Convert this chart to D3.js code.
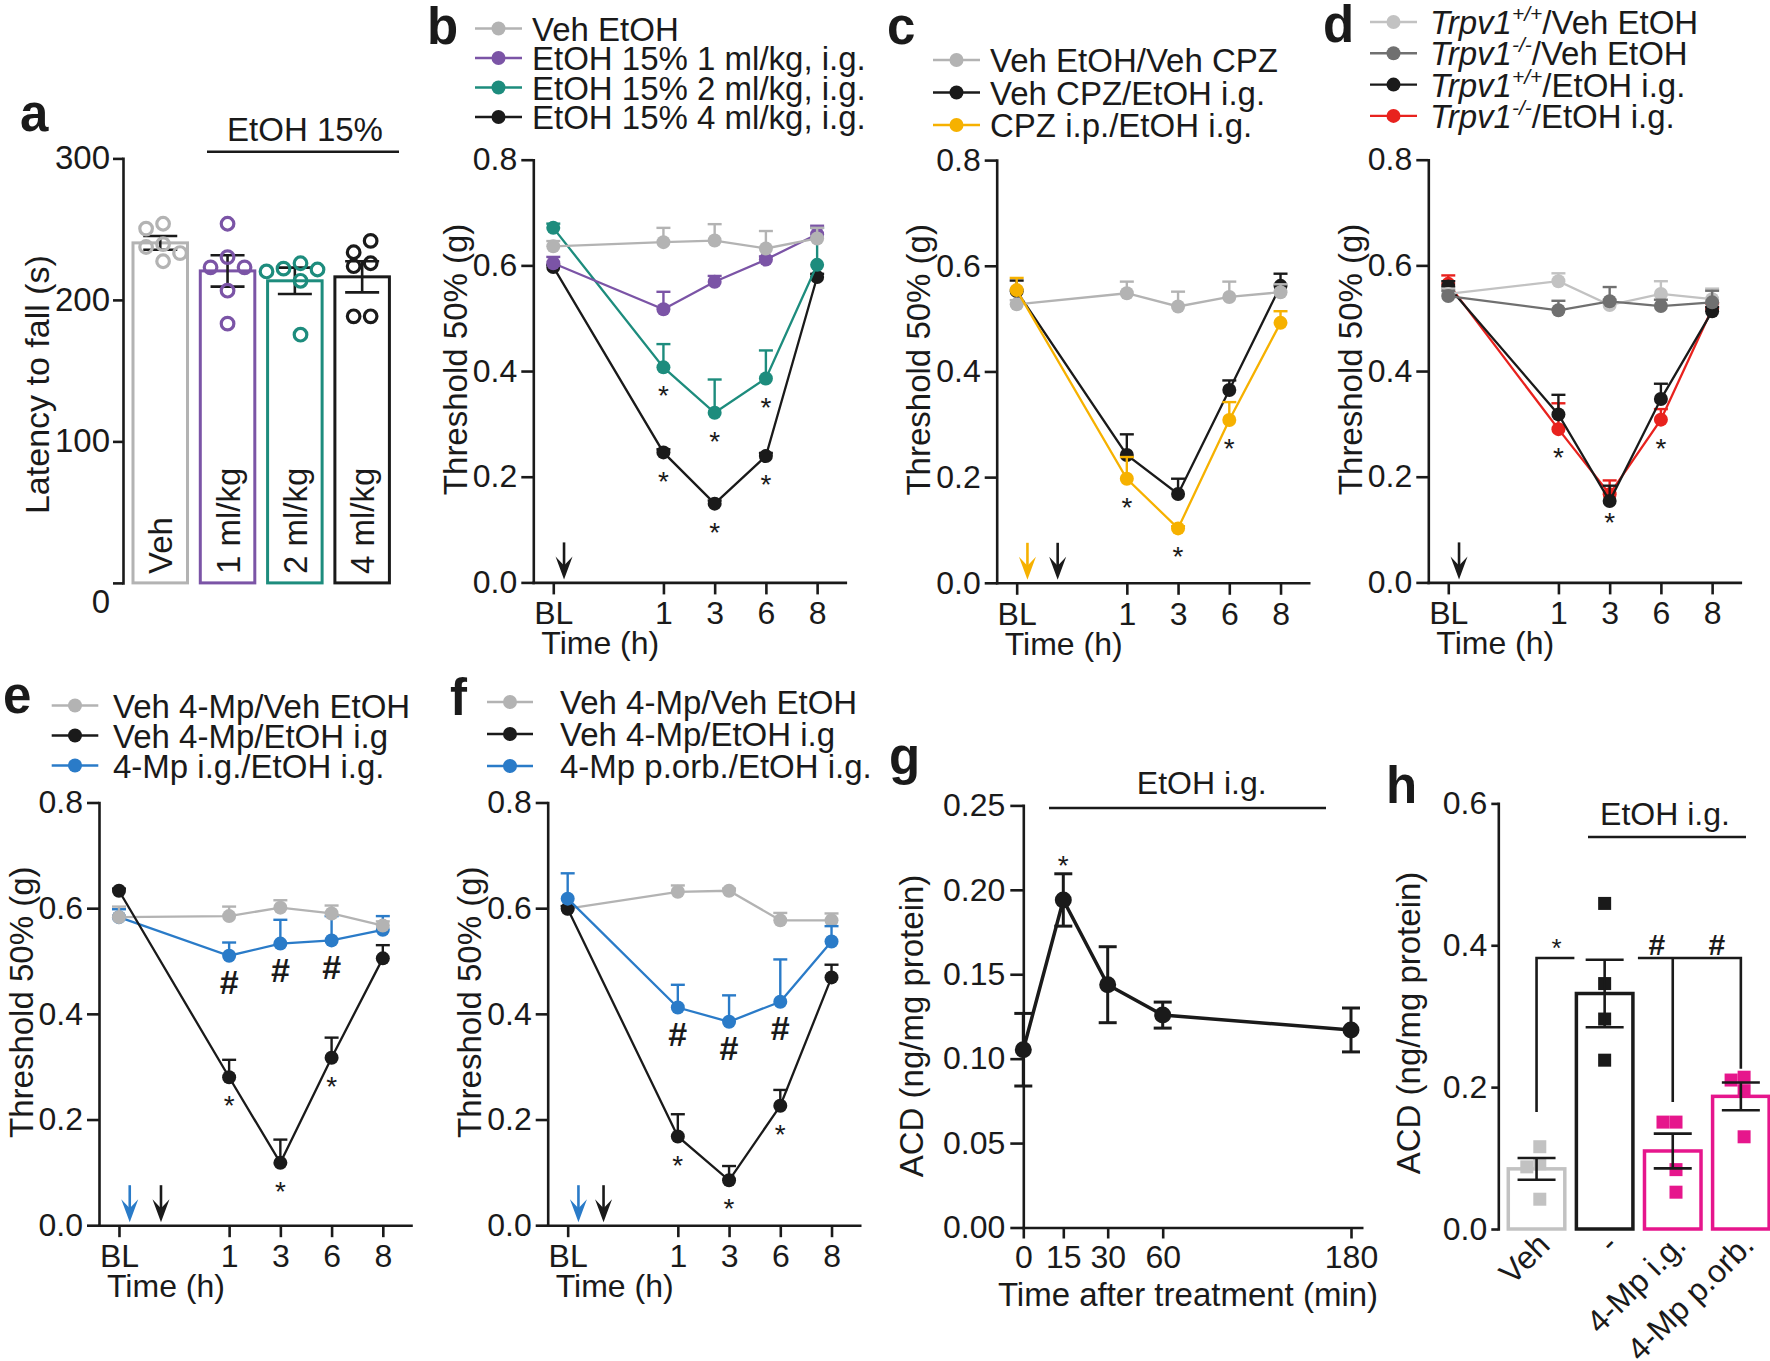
<!DOCTYPE html>
<html><head><meta charset="utf-8">
<script src="https://cdn.jsdelivr.net/npm/d3@7"></script>
<style>body{margin:0;background:#fff} svg{display:block}</style>
</head><body>
<script>
// ================= DATA =================
const timeLabels = ["BL", "1", "3", "6", "8"];
const thrTicks = [0, 0.2, 0.4, 0.6, 0.8];

// --- a ---
const aGroups = ["Veh", "1 ml/kg", "2 ml/kg", "4 ml/kg"];
const aMeans = [240.3, 220.5, 213.5, 216.3];
const aSEM = [4.9, 11.1, 9.3, 11.0];
const aVehPts = [253.8, 250.4, 239.4, 237.4, 233.1, 227.3];
const a1mlPts = [253.8, 230.2, 223.0, 223.0, 206.5, 183.2];
const a2mlPts = [225.9, 222.1, 221.5, 220.1, 213.5, 175.4];
const a4mlPts = [241.7, 233.7, 225.9, 223.8, 188.4, 188.4];
const aTicks = [0, 100, 200, 300];

// --- b ---
const bLegend = ["Veh EtOH", "EtOH 15% 1 ml/kg, i.g.", "EtOH 15% 2 ml/kg, i.g.", "EtOH 15% 4 ml/kg, i.g."];
const bVeh = [0.636, 0.644, 0.647, 0.632, 0.651];
const bVehErr = [0.010, 0.027, 0.031, 0.033, 0.020];
const b1ml = [0.604, 0.517, 0.569, 0.611, 0.659];
const b1mlErr = [0.012, 0.033, 0.011, 0.006, 0.016];
const b2ml = [0.671, 0.407, 0.321, 0.386, 0.601];
const b2mlErr = [0.008, 0.044, 0.063, 0.053, 0.070];
const b4ml = [0.597, 0.246, 0.149, 0.239, 0.578];
const b4mlErr = [0.004, 0.006, 0.006, 0.006, 0.006];
const bStars2ml = [1, 2, 3];
const bStars4ml = [1, 2, 3];

// --- c ---
const cLegend = ["Veh EtOH/Veh CPZ", "Veh CPZ/EtOH i.g.", "CPZ i.p./EtOH i.g."];
const cVeh = [0.527, 0.548, 0.523, 0.541, 0.550];
const cVehErr = [0.008, 0.022, 0.028, 0.029, 0.015];
const cEtOH = [0.552, 0.242, 0.168, 0.365, 0.562];
const cEtOHErr = [0.020, 0.039, 0.029, 0.018, 0.023];
const cCPZ = [0.554, 0.197, 0.103, 0.308, 0.492];
const cCPZErr = [0.023, 0.041, 0.004, 0.034, 0.022];
const cStarsCPZ = [1, 2, 3];

// --- d ---
const dLegend = [
  [["Trpv1", "i"], ["+/+", "s"], ["/Veh EtOH", ""]],
  [["Trpv1", "i"], ["-/-", "s"], ["/Veh EtOH", ""]],
  [["Trpv1", "i"], ["+/+", "s"], ["/EtOH i.g.", ""]],
  [["Trpv1", "i"], ["-/-", "s"], ["/EtOH i.g.", ""]]
];
const dWtVeh = [0.546, 0.570, 0.525, 0.546, 0.536];
const dWtVehErr = [0.010, 0.015, 0.010, 0.024, 0.020];
const dKoVeh = [0.542, 0.515, 0.532, 0.523, 0.530];
const dKoVehErr = [0.010, 0.018, 0.027, 0.012, 0.022];
const dWtEtOH = [0.560, 0.318, 0.154, 0.347, 0.513];
const dWtEtOHErr = [0.010, 0.037, 0.029, 0.029, 0.008];
const dKoEtOH = [0.565, 0.290, 0.167, 0.308, 0.518];
const dKoEtOHErr = [0.016, 0.049, 0.026, 0.020, 0.010];
const dStarsKo = [1, 2, 3];

// --- e ---
const eLegend = ["Veh 4-Mp/Veh EtOH", "Veh 4-Mp/EtOH i.g", "4-Mp i.g./EtOH i.g."];
const eVeh = [0.583, 0.585, 0.601, 0.590, 0.567];
const eVehErr = [0.020, 0.018, 0.014, 0.015, 0.008];
const eEtOH = [0.633, 0.280, 0.118, 0.317, 0.505];
const eEtOHErr = [0.004, 0.033, 0.044, 0.038, 0.025];
const eMp = [0.583, 0.510, 0.533, 0.539, 0.559];
const eMpErr = [0.015, 0.025, 0.045, 0.046, 0.026];
const eStars = [1, 2, 3];
const eHash = [1, 2, 3];

// --- f ---
const fLegend = ["Veh 4-Mp/Veh EtOH", "Veh 4-Mp/EtOH i.g", "4-Mp p.orb./EtOH i.g."];
const fVeh = [0.599, 0.631, 0.633, 0.577, 0.577];
const fVehErr = [0.005, 0.012, 0.004, 0.014, 0.013];
const fEtOH = [0.599, 0.168, 0.085, 0.226, 0.469];
const fEtOHErr = [0.005, 0.042, 0.027, 0.030, 0.024];
const fMp = [0.618, 0.412, 0.385, 0.423, 0.537];
const fMpErr = [0.048, 0.043, 0.050, 0.080, 0.029];
const fStars = [1, 2, 3];
const fHash = [1, 2, 3];

// --- g ---
const gTimes = [0, 15, 30, 60, 180];
const gMeans = [0.1053, 0.194, 0.1438, 0.1258, 0.117];
const gSEM = [0.0215, 0.0155, 0.0225, 0.0077, 0.013];
const gTicks = [0, 0.05, 0.10, 0.15, 0.20, 0.25];
const gStars = [1];

// --- h ---
const hGroups = ["Veh", "-", "4-Mp i.g.", "4-Mp p.orb."];
const hMeans = [0.0848, 0.332, 0.110, 0.187];
const hSEM = [0.0153, 0.0475, 0.0245, 0.0195];
const hVehPts = [0.116, 0.092, 0.0876, 0.042];
const hEtOHPts = [0.459, 0.346, 0.296, 0.238];
const hMpIgPts = [0.1507, 0.1507, 0.0837, 0.0519];
const hMpPoPts = [0.210, 0.214, 0.195, 0.130];
const hTicks = [0, 0.2, 0.4, 0.6];

// ================= STYLE =================
const FONT = "Arial, 'Liberation Sans', Helvetica, sans-serif";
const INK = "#1a1a1a";
const GRAY = "#b3b3b3";
const PURPLE = "#7b54a6";
const TEAL = "#1d8c7d";
const ORANGE = "#f6b100";
const LGRAY = "#c2c2c2";
const DGRAY = "#707070";
const RED = "#e8221e";
const BLUE = "#2a7bc8";
const MAGENTA = "#e6168c";
const FS = 32;

const W = 1770, H = 1361;
const svg = d3.select("body").append("svg").attr("width", W).attr("height", H)
  .attr("font-family", FONT).attr("fill", INK);
svg.append("rect").attr("width", W).attr("height", H).attr("fill", "#fff");

function styleAxis(sel, fs) {
  sel.attr("font-family", FONT).attr("font-size", fs || FS);
  sel.selectAll("path.domain").attr("stroke", INK).attr("stroke-width", 2.6).attr("stroke-linecap", "square");
  sel.selectAll(".tick line").attr("stroke", INK).attr("stroke-width", 2.6);
  sel.selectAll(".tick text").attr("fill", INK);
}
function letter(x, y, ch) {
  svg.append("text").attr("x", x).attr("y", y).attr("font-size", 51).attr("font-weight", "bold").text(ch);
}
function vtitle(g, cx, cy, s, fs) {
  g.append("text").attr("transform", `translate(${cx},${cy}) rotate(-90)`)
    .attr("text-anchor", "middle").attr("dy", "0.35em").attr("font-size", fs || 33).text(s);
}
function sym(g, x, yc, ch, fs) {
  const off = ch === "*" ? 0.575 * fs : 0.36 * fs;
  g.append("text").attr("x", x).attr("y", yc + off).attr("text-anchor", "middle")
    .attr("font-size", fs).attr("font-weight", ch === "#" ? "bold" : "normal").text(ch);
}
function hline(g, x1, x2, y, w) {
  g.append("line").attr("x1", x1).attr("x2", x2).attr("y1", y).attr("y2", y).attr("stroke", INK).attr("stroke-width", w || 2.6);
}
function arrow(g, x, y0, color) {
  g.append("line").attr("x1", x).attr("x2", x).attr("y1", y0 - 40).attr("y2", y0 - 16)
    .attr("stroke", color).attr("stroke-width", 2.6);
  g.append("path").attr("d", `M${x},${y0 - 3} L${x - 8.5},${y0 - 26} L${x},${y0 - 17} L${x + 8.5},${y0 - 26} Z`)
    .attr("fill", color);
}
function swarm(vals, yScale, step, minDist) {
  const pts = vals.map(v => ({ v, py: yScale(v) })).sort((a, b) => a.py - b.py);
  const placed = [];
  pts.forEach(p => {
    for (let k = 0; k < 30; k++) {
      const off = k === 0 ? 0 : (k % 2 ? -Math.ceil(k / 2) : Math.ceil(k / 2)) * step;
      if (placed.every(q => Math.hypot(q.dx - off, q.py - p.py) >= minDist)) { p.dx = off; break; }
    }
    placed.push(p);
  });
  const m = d3.mean(placed, p => p.dx);
  placed.forEach(p => p.dx -= m);
  return placed;
}

// ================= TIME-COURSE PANELS =================
const SLOTS = [0, 2.15, 3.15, 4.15, 5.15];
function timePanel(p) {
  const g = svg.append("g");
  const x = d3.scaleLinear().domain([-0.39, 5.7]).range([p.axisX, p.axisX + 312]);
  const y = d3.scaleLinear().domain([0, 0.8]).range([p.y0, p.y0 - 422.7]);
  const ya = g.append("g").attr("transform", `translate(${p.axisX},0)`)
    .call(d3.axisLeft(y).tickValues(thrTicks).tickFormat(d3.format(".1f")).tickSize(12).tickSizeOuter(0).tickPadding(4));
  styleAxis(ya);
  const xa = g.append("g").attr("transform", `translate(0,${p.y0})`)
    .call(d3.axisBottom(x).tickValues(SLOTS).tickFormat((d, i) => timeLabels[i]).tickSize(12).tickSizeOuter(0).tickPadding(7));
  styleAxis(xa);
  g.append("text").attr("x", p.axisX + 8).attr("y", p.y0 + 72).attr("font-size", FS).text("Time (h)");
  vtitle(g, p.axisX - 78, p.y0 - 211 - 12, "Threshold 50% (g)");
  letter(p.letter[0], p.letter[1], p.letter[2]);

  // legend
  p.legend.labels.forEach((lab, i) => {
    const ly = p.legend.y + i * p.legend.dy;
    const c = p.series[i].color;
    g.append("line").attr("x1", p.legend.x0).attr("x2", p.legend.x1).attr("y1", ly).attr("y2", ly)
      .attr("stroke", c).attr("stroke-width", 2.4);
    g.append("circle").attr("cx", (p.legend.x0 + p.legend.x1) / 2).attr("cy", ly).attr("r", 7).attr("fill", c);
    const t = g.append("text").attr("x", p.legend.tx).attr("y", ly + 12).attr("font-size", 33);
    if (typeof lab === "string") t.text(lab);
    else {
      lab.forEach(([s, st]) => {
        const ts = t.append("tspan").text(s);
        if (st === "i") ts.attr("font-style", "italic");
        if (st === "s") ts.attr("font-style", "italic").attr("font-size", 21).attr("dy", -13);
        if (st === "") ts.attr("dy", lab.some(q => q[1] === "s") ? 13 : 0);
      });
    }
  });

  // arrows
  p.arrows.forEach(a => arrow(g, x(a.slot), p.y0, a.color));

  // series
  p.order.forEach(si => {
    const s = p.series[si];
    const sg = g.append("g");
    sg.append("path").datum(s.vals)
      .attr("d", d3.line().x((d, i) => x(SLOTS[i])).y(d => y(d)))
      .attr("fill", "none").attr("stroke", s.color).attr("stroke-width", 2.3);
    s.vals.forEach((v, i) => {
      const e = s.errs[i];
      const cx = x(SLOTS[i]);
      sg.append("line").attr("x1", cx).attr("x2", cx).attr("y1", y(v)).attr("y2", y(v + e))
        .attr("stroke", s.color).attr("stroke-width", 2.4);
      sg.append("line").attr("x1", cx - 7).attr("x2", cx + 7).attr("y1", y(v + e)).attr("y2", y(v + e))
        .attr("stroke", s.color).attr("stroke-width", 2.4);
    });
    sg.selectAll("circle").data(s.vals).join("circle")
      .attr("cx", (d, i) => x(SLOTS[i])).attr("cy", d => y(d)).attr("r", 7).attr("fill", s.color);
  });

  // annotations
  p.annots.forEach(a => {
    const s = p.series[a.s];
    a.at.forEach(i => {
      const yc = y(s.vals[i]) + (a.sym === "*" ? 22 : 26);
      sym(g, x(SLOTS[i]), yc, a.sym, a.sym === "*" ? 28 : 34);
    });
  });
}

timePanel({
  axisX: 533.3, y0: 582.4, letter: [427, 44, "b"],
  legend: { labels: bLegend, x0: 475, x1: 522, tx: 532, y: 28.5, dy: 29.5 },
  series: [
    { vals: bVeh, errs: bVehErr, color: GRAY },
    { vals: b1ml, errs: b1mlErr, color: PURPLE },
    { vals: b2ml, errs: b2mlErr, color: TEAL },
    { vals: b4ml, errs: b4mlErr, color: INK }],
  order: [3, 2, 1, 0],
  arrows: [{ slot: 0.21, color: INK }],
  annots: [{ s: 2, at: bStars2ml, sym: "*" }, { s: 3, at: bStars4ml, sym: "*" }]
});

timePanel({
  axisX: 996.7, y0: 582.8, letter: [887, 44, "c"],
  legend: { labels: cLegend, x0: 933, x1: 980, tx: 990, y: 60, dy: 32.5 },
  series: [
    { vals: cVeh, errs: cVehErr, color: GRAY },
    { vals: cEtOH, errs: cEtOHErr, color: INK },
    { vals: cCPZ, errs: cCPZErr, color: ORANGE }],
  order: [1, 0, 2],
  arrows: [{ slot: 0.21, color: ORANGE }, { slot: 0.8, color: INK }],
  annots: [{ s: 2, at: cStarsCPZ, sym: "*" }]
});

timePanel({
  axisX: 1428.3, y0: 582.4, letter: [1323, 42, "d"],
  legend: { labels: dLegend, x0: 1370, x1: 1417, tx: 1430, y: 22, dy: 31.3 },
  series: [
    { vals: dWtVeh, errs: dWtVehErr, color: LGRAY },
    { vals: dKoVeh, errs: dKoVehErr, color: DGRAY },
    { vals: dWtEtOH, errs: dWtEtOHErr, color: INK },
    { vals: dKoEtOH, errs: dKoEtOHErr, color: RED }],
  order: [3, 2, 0, 1],
  arrows: [{ slot: 0.21, color: INK }],
  annots: [{ s: 3, at: dStarsKo, sym: "*" }]
});

timePanel({
  axisX: 99, y0: 1225.2, letter: [3, 712.6, "e"],
  legend: { labels: eLegend, x0: 51.7, x1: 98.3, tx: 113, y: 705.5, dy: 30 },
  series: [
    { vals: eVeh, errs: eVehErr, color: GRAY },
    { vals: eEtOH, errs: eEtOHErr, color: INK },
    { vals: eMp, errs: eMpErr, color: BLUE }],
  order: [2, 0, 1],
  arrows: [{ slot: 0.21, color: BLUE }, { slot: 0.82, color: INK }],
  annots: [{ s: 1, at: eStars, sym: "*" }, { s: 2, at: eHash, sym: "#" }]
});

timePanel({
  axisX: 547.7, y0: 1225.2, letter: [450, 714.7, "f"],
  legend: { labels: fLegend, x0: 487, x1: 533, tx: 560, y: 702, dy: 32 },
  series: [
    { vals: fVeh, errs: fVehErr, color: GRAY },
    { vals: fEtOH, errs: fEtOHErr, color: INK },
    { vals: fMp, errs: fMpErr, color: BLUE }],
  order: [0, 1, 2],
  arrows: [{ slot: 0.21, color: BLUE }, { slot: 0.7, color: INK }],
  annots: [{ s: 1, at: fStars, sym: "*" }, { s: 2, at: fHash, sym: "#" }]
});

// ================= PANEL a =================
(function () {
  const g = svg.append("g");
  const axisX = 123;
  const y = d3.scaleLinear().domain([0, 300]).range([582.9, 158.4]);
  const x = d3.scaleBand().domain(aGroups).range([126.6, 126.6 + 4 * 67.3]).paddingInner(0.19).paddingOuter(0.095);
  const ya = g.append("g").attr("transform", `translate(${axisX},0)`)
    .call(d3.axisLeft(y).tickValues(aTicks).tickSize(10).tickSizeOuter(0).tickPadding(3));
  styleAxis(ya, 33);
  ya.selectAll(".tick text").filter(d => d === 0).attr("transform", "translate(0,19)");
  vtitle(g, 36.7, 384.6, "Latency to fall (s)", 34);
  letter(20, 130.6, "a");
  g.append("text").attr("x", 305).attr("y", 140.8).attr("text-anchor", "middle").attr("font-size", 33).text("EtOH 15%");
  hline(g, 207, 399, 151.8);

  const colors = [GRAY, PURPLE, TEAL, INK];
  const pts = [aVehPts, a1mlPts, a2mlPts, a4mlPts];
  aGroups.forEach((grp, i) => {
    const x0 = x(grp), bw = x.bandwidth(), cx = x0 + bw / 2;
    g.append("rect").attr("x", x0).attr("y", y(aMeans[i])).attr("width", bw).attr("height", y(0) - y(aMeans[i]))
      .attr("fill", "none").attr("stroke", colors[i]).attr("stroke-width", 3);
    g.append("text").attr("transform", `translate(${cx + 12},574) rotate(-90)`).attr("font-size", 33).text(grp);
    const top = y(aMeans[i] + aSEM[i]), bot = y(aMeans[i] - aSEM[i]);
    g.append("line").attr("x1", cx).attr("x2", cx).attr("y1", top).attr("y2", bot).attr("stroke", INK).attr("stroke-width", 2.6);
    hline(g, cx - 17, cx + 17, top);
    hline(g, cx - 17, cx + 17, bot);
    swarm(pts[i], y, 17, 14).forEach(p => {
      g.append("circle").attr("cx", cx + p.dx).attr("cy", p.py).attr("r", 6.3).attr("fill", "none")
        .attr("stroke", colors[i]).attr("stroke-width", 3.2);
    });
  });
})();

// ================= PANEL g =================
(function () {
  const g = svg.append("g");
  const axisX = 1023.3, y0 = 1227.5;
  const y = d3.scaleLinear().domain([0, 0.25]).range([y0, 805.4]);
  const x = d3.scaleLinear().domain([0, 15, 30, 60, 180, 186]).range([axisX, 1063.3, 1107.7, 1162.7, 1351, 1361.7]);
  const ya = g.append("g").attr("transform", `translate(${axisX},0)`)
    .call(d3.axisLeft(y).tickValues(gTicks).tickFormat(d3.format(".2f")).tickSize(13).tickSizeOuter(0).tickPadding(5));
  styleAxis(ya);
  const xa = g.append("g").attr("transform", `translate(0,${y0})`)
    .call(d3.axisBottom(x).tickValues(gTimes).tickSize(11).tickSizeOuter(0).tickPadding(7));
  styleAxis(xa);
  vtitle(g, 911.7, 1026, "ACD (ng/mg protein)");
  g.append("text").attr("x", 1188).attr("y", 1306).attr("text-anchor", "middle").attr("font-size", 33).text("Time after treatment (min)");
  letter(889, 774, "g");
  g.append("text").attr("x", 1201.7).attr("y", 793.6).attr("text-anchor", "middle").attr("font-size", FS).text("EtOH i.g.");
  hline(g, 1049, 1326, 808);

  gTimes.forEach((t, i) => {
    const cx = x(t), top = y(gMeans[i] + gSEM[i]), bot = y(gMeans[i] - gSEM[i]);
    g.append("line").attr("x1", cx).attr("x2", cx).attr("y1", top).attr("y2", bot).attr("stroke", INK).attr("stroke-width", 3);
    hline(g, cx - 9, cx + 9, top, 3);
    hline(g, cx - 9, cx + 9, bot, 3);
  });
  g.append("path").datum(gMeans).attr("d", d3.line().x((d, i) => x(gTimes[i])).y(d => y(d)))
    .attr("fill", "none").attr("stroke", INK).attr("stroke-width", 3.5);
  g.selectAll("circle.gm").data(gMeans).join("circle")
    .attr("cx", (d, i) => x(gTimes[i])).attr("cy", d => y(d)).attr("r", 8.5).attr("fill", INK);
  gStars.forEach(i => sym(g, x(gTimes[i]), y(gMeans[i] + gSEM[i]) - 15, "*", 28));
})();

// ================= PANEL h =================
(function () {
  const g = svg.append("g");
  const axisX = 1498.3, y0 = 1229;
  const y = d3.scaleLinear().domain([0, 0.6]).range([y0, 803.4]);
  const x = d3.scaleBand().domain(hGroups).range([1502.5, 1502.5 + 4 * 68.1]).paddingInner(0.17).paddingOuter(0.085);
  const ya = g.append("g").attr("transform", `translate(${axisX},0)`)
    .call(d3.axisLeft(y).tickValues(hTicks).tickFormat(d3.format(".1f")).tickSize(7).tickSizeOuter(0).tickPadding(4));
  styleAxis(ya);
  vtitle(g, 1408, 1023, "ACD (ng/mg protein)");
  letter(1386, 803, "h");
  g.append("text").attr("x", 1665).attr("y", 825).attr("text-anchor", "middle").attr("font-size", FS).text("EtOH i.g.");
  hline(g, 1588, 1746, 837);

  const colors = [LGRAY, INK, MAGENTA, MAGENTA];
  const pts = [hVehPts, hEtOHPts, hMpIgPts, hMpPoPts];
  const cxOf = grp => x(grp) + x.bandwidth() / 2;
  hGroups.forEach((grp, i) => {
    const x0 = x(grp), bw = x.bandwidth(), cx = cxOf(grp);
    g.append("rect").attr("x", x0).attr("y", y(hMeans[i])).attr("width", bw).attr("height", y(0) - y(hMeans[i]))
      .attr("fill", "none").attr("stroke", colors[i]).attr("stroke-width", 3.5);
    swarm(pts[i], y, 13, 13).forEach(p => {
      g.append("rect").attr("x", cx + p.dx - 6.5).attr("y", p.py - 6.5).attr("width", 13).attr("height", 13)
        .attr("fill", colors[i]);
    });
    const top = y(hMeans[i] + hSEM[i]), bot = y(hMeans[i] - hSEM[i]);
    g.append("line").attr("x1", cx).attr("x2", cx).attr("y1", top).attr("y2", bot).attr("stroke", INK).attr("stroke-width", 2.6);
    hline(g, cx - 19, cx + 19, top);
    hline(g, cx - 19, cx + 19, bot);
    g.append("text").attr("transform", `translate(${cx + 15},${y0 + 18}) rotate(-45)`)
      .attr("text-anchor", "end").attr("font-size", FS).text(grp);
  });

  // significance brackets
  const by = y(0.382);
  const c0 = cxOf(hGroups[0]), c2 = cxOf(hGroups[2]), c3 = cxOf(hGroups[3]);
  const left1 = x(hGroups[1]), right1 = x(hGroups[1]) + x.bandwidth();
  g.append("path").attr("d", `M${c0},${y(0.165)} V${by} H${left1 - 2}`).attr("fill", "none").attr("stroke", INK).attr("stroke-width", 2.6);
  g.append("path").attr("d", `M${right1 + 5},${by} H${c3} V${y(0.226)} M${c2},${by} V${y(0.179)}`)
    .attr("fill", "none").attr("stroke", INK).attr("stroke-width", 2.6);
  sym(g, (c0 + left1) / 2, by - 16, "*", 26);
  sym(g, (right1 + c2) / 2 + 4, by - 14, "#", 30);
  sym(g, (c2 + c3) / 2 + 10, by - 14, "#", 30);
})();
</script>
</body></html>
